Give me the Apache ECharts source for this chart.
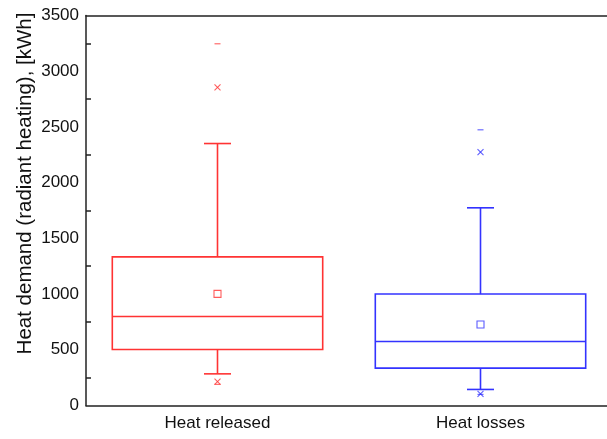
<!DOCTYPE html>
<html>
<head>
<meta charset="utf-8">
<script src="https://cdn.jsdelivr.net/npm/echarts@6/dist/echarts.min.js"></script>
<style>
  html, body { margin: 0; padding: 0; background: #fff; }
  #chart { width: 607px; height: 439px; }
</style>
</head>
<body>
<div id="chart"></div>
<script>
// Box statistics per category (kWh)
const categories = ['Heat released', 'Heat losses'];
const whiskerLow  = [284, 144];
const q1          = [502, 335];
const median      = [799, 574];
const q3          = [1334, 1000];
const whiskerHigh = [2351, 1774];
const mean        = [1002, 727];
const p1          = [215, 105];
const p99         = [2854, 2273];
const minVal      = [190, 100];
const maxVal      = [3246, 2474];
const yTicks      = [0, 500, 1000, 1500, 2000, 2500, 3000, 3500];

const colors = ['#ff3333', '#3333ff'];

const rows = categories.map((c, i) => [
  i, whiskerLow[i], q1[i], median[i], q3[i], whiskerHigh[i],
  mean[i], p1[i], p99[i], minVal[i], maxVal[i]
]);

function renderBox(params, api) {
  const i = api.value(0);
  const col = colors[i];
  const band = api.size([1, 0])[0];
  const half = band * 0.4;
  const cap = 13.5;
  const pt = (d) => api.coord([i, api.value(d)]);
  const cx = pt(1)[0];
  const yWl = pt(1)[1], yQ1 = pt(2)[1], yMed = pt(3)[1], yQ3 = pt(4)[1], yWh = pt(5)[1];
  const yMean = pt(6)[1], yP1 = pt(7)[1], yP99 = pt(8)[1], yMin = pt(9)[1], yMax = pt(10)[1];
  const ls = { stroke: col, lineWidth: 1.6, fill: null };
  const ms = { stroke: col, lineWidth: 1.1, fill: null, opacity: 0.8 };
  const line = (x1, y1, x2, y2, st) => ({ type: 'line', shape: { x1, y1, x2, y2 }, style: st });
  const cross = (y) => [
    line(cx - 3, y - 3, cx + 3, y + 3, ms),
    line(cx + 3, y - 3, cx - 3, y + 3, ms)
  ];
  return {
    type: 'group',
    children: [
      { type: 'rect', shape: { x: cx - half, y: yQ3, width: half * 2, height: yQ1 - yQ3 }, style: ls },
      line(cx - half, yMed, cx + half, yMed, ls),
      line(cx, yQ3, cx, yWh, ls),
      line(cx, yQ1, cx, yWl, ls),
      line(cx - cap, yWh, cx + cap, yWh, ls),
      line(cx - cap, yWl, cx + cap, yWl, ls),
      { type: 'rect', shape: { x: cx - 3.5, y: yMean - 3.5, width: 7, height: 7 }, style: ms },
      ...cross(yP1),
      ...cross(yP99),
      line(cx - 3, yMin, cx + 3, yMin, ms),
      line(cx - 3, yMax, cx + 3, yMax, ms)
    ]
  };
}

const axisColor = '#222';
const chart = echarts.init(document.getElementById('chart'), null, { renderer: 'canvas' });
chart.setOption({
  animation: false,
  backgroundColor: '#fff',
  textStyle: { fontFamily: 'Liberation Sans, Arial, sans-serif' },
  grid: {
    left: 86, top: 15.5, width: 526, bottom: 33.5,
    outerBoundsMode: 'none',
    containLabel: false,
    show: false
  },
  xAxis: [{
    type: 'category',
    data: categories,
    axisLine: { lineStyle: { color: axisColor, width: 1.5 } },
    axisTick: { alignWithLabel: true, length: 7, lineStyle: { color: axisColor, width: 1.5 } },
    axisLabel: { color: '#111', fontSize: 17, margin: 9 },
    splitLine: { show: false }
  }, {
    // top frame line
    type: 'category',
    data: categories,
    position: 'top',
    axisLine: { show: true, lineStyle: { color: axisColor, width: 1.5 } },
    axisTick: { show: false },
    axisLabel: { show: false },
    splitLine: { show: false }
  }],
  yAxis: {
    type: 'value',
    min: yTicks[0],
    max: yTicks[yTicks.length - 1],
    interval: yTicks[1] - yTicks[0],
    name: 'Heat demand (radiant heating), [kWh]',
    nameLocation: 'middle',
    nameGap: 50,
    nameMoveOverlap: false,
    nameTextStyle: { fontSize: 20.5, color: '#111', padding: [0, 0, 0, 54] },
    axisLine: { show: true, lineStyle: { color: axisColor, width: 1.5 } },
    axisTick: { inside: true, length: 8, lineStyle: { color: axisColor, width: 1.5 } },
    minorTick: { show: true, splitNumber: 2, length: 5, lineStyle: { color: axisColor, width: 1.5 } },
    axisLabel: { color: '#111', fontSize: 17, margin: 7, formatter: (v) => String(v) },
    splitLine: { show: false }
  },
  series: [{
    type: 'custom',
    renderItem: renderBox,
    data: rows,
    encode: { x: 0, y: [1, 2, 3, 4, 5, 6, 7, 8, 9, 10] },
    clip: false
  }]
});
</script>
</body>
</html>
